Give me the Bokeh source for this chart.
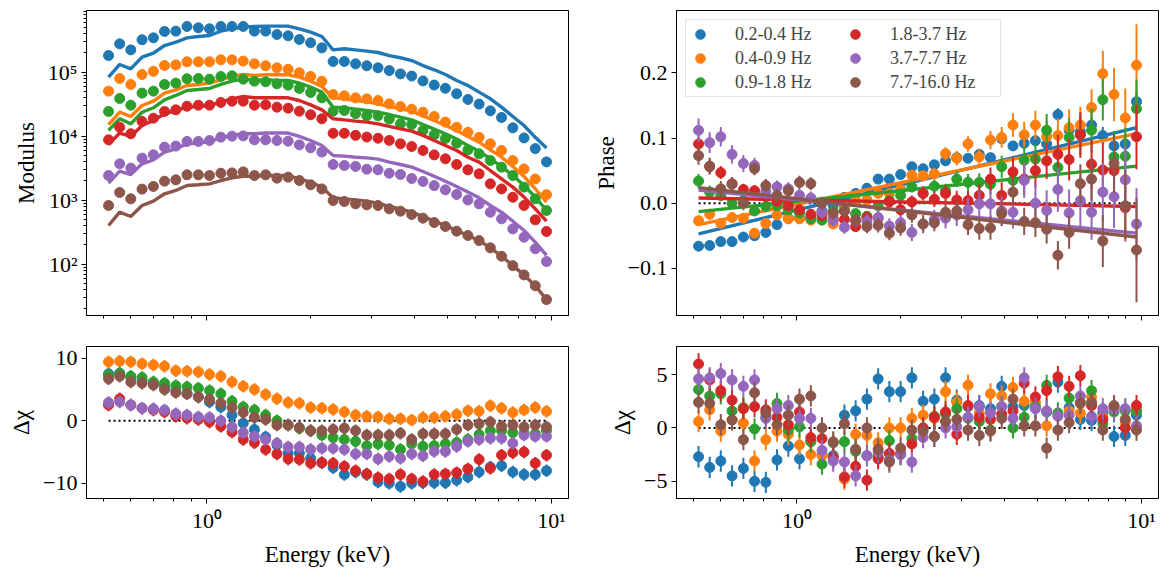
from bokeh.plotting import figure
from bokeh.models import ColumnDataSource, FixedTicker, Legend, LegendItem, Range1d
from bokeh.layouts import gridplot
from bokeh.embed import file_html
from bokeh.resources import INLINE

# ---------------- data ----------------
energy = [0.518, 0.558, 0.601, 0.648, 0.699, 0.753, 0.812, 0.875, 0.944, 1.017,
          1.097, 1.182, 1.274, 1.373, 1.480, 1.596, 1.720, 1.854, 1.999, 2.155,
          2.323, 2.504, 2.699, 2.909, 3.136, 3.381, 3.644, 3.928, 4.235, 4.565,
          4.920, 5.304, 5.718, 6.163, 6.644, 7.161, 7.720, 8.321, 8.970, 9.669]

band_labels = ["0.2-0.4 Hz", "0.4-0.9 Hz", "0.9-1.8 Hz", "1.8-3.7 Hz", "3.7-7.7 Hz", "7.7-16.0 Hz"]
colors = ["#1f77b4", "#ff7f0e", "#2ca02c", "#d62728", "#9467bd", "#8c564b"]

# modulus data
mod_b1 = [1.82e5, 2.77e5, 2.23e5, 3.21e5, 3.44e5, 4.33e5, 4.38e5, 5.18e5, 4.93e5, 4.76e5,
          5.18e5, 5.18e5, 5.18e5, 4.38e5, 4.38e5, 3.88e5, 3.70e5, 3.24e5, 2.88e5, 2.40e5,
          1.47e5, 1.47e5, 1.35e5, 1.26e5, 1.17e5, 1.06e5, 9.4e4, 8.7e4, 7.3e4, 6.3e4,
          5.6e4, 4.6e4, 3.75e4, 3.17e4, 2.49e4, 1.96e4, 1.35e4, 9.4e3, 6.4e3, 3.97e3]
mod_b2 = [5.06e4, 7.98e4, 6.43e4, 9.2e4, 1.03e5, 1.27e5, 1.30e5, 1.45e5, 1.45e5, 1.45e5,
          1.56e5, 1.56e5, 1.49e5, 1.35e5, 1.26e5, 1.17e5, 1.11e5, 9.8e4, 8.6e4, 7.2e4,
          4.48e4, 4.28e4, 3.97e4, 3.83e4, 3.61e4, 3.20e4, 2.90e4, 2.64e4, 2.37e4, 2.03e4,
          1.66e4, 1.38e4, 1.15e4, 9.6e3, 7.6e3, 5.97e3, 4.17e3, 3.08e3, 2.15e3, 1.22e3]
mod_b3 = [2.43e4, 3.88e4, 3.05e4, 4.71e4, 5.06e4, 6.43e4, 6.75e4, 7.89e4, 7.98e4, 7.78e4,
          8.57e4, 8.77e4, 7.78e4, 7.24e4, 7.07e4, 6.58e4, 6.27e4, 5.56e4, 4.82e4, 3.98e4,
          2.46e4, 2.52e4, 2.24e4, 2.08e4, 2.08e4, 1.85e4, 1.56e4, 1.52e4, 1.23e4, 1.05e4,
          9.2e3, 7.8e3, 6.1e3, 5.3e3, 4.17e3, 3.28e3, 2.43e3, 1.60e3, 1.05e3, 690]
mod_b4 = [8.77e3, 1.38e4, 1.09e4, 1.70e4, 1.91e4, 2.43e4, 2.58e4, 2.94e4, 3.05e4, 3.05e4,
          3.36e4, 3.52e4, 3.52e4, 3.05e4, 3.09e4, 2.84e4, 2.74e4, 2.46e4, 2.16e4, 1.87e4,
          1.11e4, 1.11e4, 1.03e4, 9.7e3, 9.3e3, 8.6e3, 7.6e3, 6.9e3, 5.97e3, 5.1e3,
          4.43e3, 3.61e3, 2.98e3, 2.58e3, 1.80e3, 1.50e3, 1.11e3, 826, 493, 324]
mod_b5 = [2.43e3, 3.70e3, 3.17e3, 4.54e3, 5.12e3, 6.75e3, 7.0e3, 8.28e3, 8.28e3, 8.57e3,
          9.66e3, 1.00e4, 1.01e4, 8.77e3, 8.77e3, 8.57e3, 8.37e3, 7.33e3, 6.58e3, 5.64e3,
          3.61e3, 3.48e3, 3.37e3, 3.05e3, 2.98e3, 2.64e3, 2.52e3, 2.18e3, 1.96e3, 1.69e3,
          1.45e3, 1.23e3, 1.01e3, 877, 649, 511, 356, 264, 174, 110]
mod_b6 = [826, 1.32e3, 1.05e3, 1.49e3, 1.64e3, 1.98e3, 2.08e3, 2.49e3, 2.49e3, 2.43e3,
          2.64e3, 2.67e3, 2.77e3, 2.43e3, 2.49e3, 2.21e3, 2.29e3, 2.03e3, 1.74e3, 1.50e3,
          988, 953, 877, 846, 826, 733, 673, 597, 524, 448,
          388, 328, 281, 234, 180, 133, 95, 68, 46, 28]

# modulus model
mmod_b1 = [8.36e4, 1.32e5, 1.13e5, 1.72e5, 1.98e5, 2.61e5, 2.94e5, 3.44e5, 3.61e5, 3.74e5,
           4.38e5, 4.76e5, 5.05e5, 5.18e5, 5.24e5, 5.24e5, 5.24e5, 4.76e5, 4.23e5, 3.61e5,
           2.23e5, 2.32e5, 2.23e5, 2.13e5, 2.03e5, 1.82e5, 1.68e5, 1.52e5, 1.27e5, 1.09e5,
           9.2e4, 7.4e4, 6.2e4, 4.88e4, 3.84e4, 2.84e4, 2.03e4, 1.47e4, 9.6e3, 6.56e3]
mmod_b2 = [1.52e4, 2.37e4, 2.03e4, 3.02e4, 3.53e4, 4.70e4, 5.30e4, 6.20e4, 6.43e4, 6.74e4,
           7.60e4, 8.67e4, 9.21e4, 8.88e4, 9.10e4, 9.10e4, 9.10e4, 8.36e4, 7.24e4, 5.98e4,
           3.98e4, 3.84e4, 3.61e4, 3.44e4, 3.20e4, 2.91e4, 2.68e4, 2.46e4, 2.08e4, 1.76e4,
           1.47e4, 1.23e4, 9.9e3, 8.07e3, 6.12e3, 4.70e3, 3.36e3, 2.35e3, 1.51e3, 932]
mmod_b3 = [1.23e4, 1.87e4, 1.56e4, 2.37e4, 2.78e4, 3.70e4, 4.33e4, 5.18e4, 5.37e4, 5.57e4,
           6.43e4, 7.24e4, 7.88e4, 7.42e4, 7.60e4, 7.42e4, 7.42e4, 6.74e4, 5.84e4, 4.88e4,
           2.84e4, 2.78e4, 2.65e4, 2.52e4, 2.37e4, 2.18e4, 1.98e4, 1.80e4, 1.52e4, 1.29e4,
           1.09e4, 8.99e3, 7.16e3, 5.84e3, 4.43e3, 3.36e3, 2.43e3, 1.70e3, 1.12e3, 690]
mmod_b4 = [7.42e3, 1.12e4, 9.9e3, 1.47e4, 1.76e4, 2.24e4, 2.52e4, 2.84e4, 2.91e4, 3.02e4,
           3.40e4, 3.84e4, 4.17e4, 3.98e4, 3.98e4, 3.98e4, 3.98e4, 3.61e4, 3.09e4, 2.58e4,
           1.87e4, 1.80e4, 1.72e4, 1.66e4, 1.56e4, 1.42e4, 1.30e4, 1.20e4, 1.03e4, 8.57e3,
           7.16e3, 5.98e3, 4.70e3, 3.93e3, 2.91e3, 2.16e3, 1.60e3, 1.12e3, 733, 470]
mmod_b5 = [1.85e3, 2.84e3, 2.52e3, 3.70e3, 4.27e3, 5.63e3, 6.35e3, 7.60e3, 7.78e3, 8.27e3,
           9.43e3, 1.03e4, 1.09e4, 1.09e4, 1.12e4, 1.12e4, 1.12e4, 9.9e3, 8.57e3, 7.16e3,
           4.99e3, 4.88e3, 4.70e3, 4.59e3, 4.38e3, 3.93e3, 3.61e3, 3.28e3, 2.81e3, 2.37e3,
           1.98e3, 1.64e3, 1.34e3, 1.09e3, 826, 650, 470, 336, 221, 137]
mmod_b6 = [402, 650, 556, 826, 966, 1.26e3, 1.42e3, 1.70e3, 1.74e3, 1.80e3,
           2.03e3, 2.24e3, 2.37e3, 2.37e3, 2.43e3, 2.43e3, 2.43e3, 2.16e3, 1.91e3, 1.60e3,
           1.09e3, 1.05e3, 1.01e3, 966, 899, 797, 733, 650, 556, 470,
           402, 336, 281, 235, 180, 134, 95, 68, 46, 28]

# phase data
ph_b1 = [-0.066, -0.065, -0.059, -0.059, -0.052, -0.050, -0.045, -0.033, -0.023, -0.023,
         -0.022, -0.012, -0.003, 0.009, 0.015, 0.023, 0.037, 0.037, 0.044, 0.056,
         0.053, 0.059, 0.065, 0.070, 0.069, 0.075, 0.070, 0.099, 0.088, 0.092,
         0.096, 0.091, 0.136, 0.112, 0.110, 0.120, 0.104, 0.088, 0.091, 0.156]
ph_b2 = [-0.027, -0.017, -0.031, -0.022, -0.023, -0.046, -0.031, -0.018, -0.024, -0.024,
         -0.026, -0.016, -0.032, -0.006, 0.004, 0.005, 0.015, 0.015, 0.021, 0.043,
         0.042, 0.045, 0.076, 0.069, 0.091, 0.071, 0.097, 0.101, 0.120, 0.105,
         0.120, 0.102, 0.104, 0.116, 0.120, 0.147, 0.199, 0.167, 0.131, 0.212]
ph_b3 = [0.034, 0.017, 0.012, 0.000, 0.004, -0.012, -0.005, -0.004, -0.010, -0.015,
         -0.024, -0.026, -0.012, -0.012, -0.016, -0.020, -0.004, 0.004, 0.012, 0.025,
         0.015, 0.026, 0.019, 0.037, 0.032, 0.032, 0.029, 0.056, 0.035, 0.066,
         0.068, 0.112, 0.055, 0.101, 0.105, 0.112, 0.159, 0.071, 0.072, 0.145]
ph_b4 = [0.091, 0.056, 0.047, 0.030, 0.021, 0.019, 0.010, 0.003, -0.004, -0.010,
         -0.017, -0.019, -0.024, -0.025, -0.036, -0.022, -0.023, 0.002, -0.010, 0.002,
         0.015, 0.006, 0.015, 0.005, 0.004, 0.012, 0.037, 0.012, 0.048, 0.037,
         0.050, 0.065, 0.075, 0.067, 0.105, 0.060, 0.051, 0.050, -0.007, 0.102]
ph_b5 = [0.112, 0.093, 0.102, 0.075, 0.061, 0.058, 0.018, 0.025, 0.022, 0.012,
         0.008, -0.014, -0.026, -0.037, -0.027, -0.028, -0.022, -0.035, -0.030, -0.045,
         -0.032, -0.025, -0.023, -0.018, -0.010, -0.001, -0.001, -0.012, -0.014, 0.035,
         0.000, -0.011, 0.021, -0.015, 0.004, -0.014, 0.017, 0.010, 0.036, -0.032]
ph_b6 = [0.073, 0.057, 0.022, 0.029, 0.000, 0.053, 0.027, 0.012, 0.019, 0.032,
         0.030, 0.000, -0.015, -0.012, -0.026, -0.036, -0.034, -0.046, -0.038, -0.018,
         -0.032, -0.030, -0.014, -0.012, -0.033, -0.039, -0.038, -0.016, 0.017, -0.028,
         -0.030, -0.040, -0.080, -0.045, 0.030, 0.037, -0.058, 0.061, -0.004, -0.072]

# phase errors
phe_b1 = [0.005, 0.005, 0.005, 0.004, 0.004, 0.004, 0.004, 0.003, 0.003, 0.003,
          0.003, 0.003, 0.003, 0.003, 0.003, 0.003, 0.003, 0.004, 0.004, 0.004,
          0.004, 0.005, 0.005, 0.005, 0.005, 0.006, 0.006, 0.006, 0.007, 0.007,
          0.008, 0.008, 0.010, 0.010, 0.011, 0.012, 0.013, 0.014, 0.015, 0.016]
phe_b2 = [0.008, 0.008, 0.007, 0.007, 0.006, 0.006, 0.005, 0.005, 0.005, 0.005,
          0.005, 0.005, 0.005, 0.005, 0.005, 0.006, 0.006, 0.006, 0.007, 0.007,
          0.008, 0.009, 0.010, 0.011, 0.012, 0.013, 0.014, 0.016, 0.018, 0.020,
          0.022, 0.024, 0.026, 0.028, 0.028, 0.028, 0.035, 0.041, 0.045, 0.063]
phe_b3 = [0.011, 0.010, 0.009, 0.008, 0.008, 0.007, 0.007, 0.006, 0.006, 0.006,
          0.006, 0.006, 0.006, 0.006, 0.006, 0.007, 0.007, 0.007, 0.008, 0.008,
          0.009, 0.010, 0.011, 0.012, 0.013, 0.014, 0.015, 0.017, 0.019, 0.021,
          0.023, 0.025, 0.027, 0.029, 0.031, 0.034, 0.032, 0.040, 0.044, 0.045]
phe_b4 = [0.012, 0.011, 0.010, 0.010, 0.009, 0.009, 0.008, 0.008, 0.008, 0.008,
          0.008, 0.008, 0.008, 0.008, 0.008, 0.009, 0.009, 0.009, 0.010, 0.010,
          0.011, 0.012, 0.013, 0.014, 0.015, 0.017, 0.018, 0.020, 0.022, 0.024,
          0.026, 0.028, 0.030, 0.032, 0.035, 0.038, 0.041, 0.044, 0.048, 0.050]
phe_b5 = [0.018, 0.016, 0.015, 0.014, 0.013, 0.012, 0.011, 0.010, 0.010, 0.010,
          0.010, 0.010, 0.010, 0.010, 0.010, 0.011, 0.011, 0.012, 0.012, 0.013,
          0.014, 0.015, 0.016, 0.017, 0.018, 0.020, 0.021, 0.023, 0.025, 0.027,
          0.029, 0.031, 0.034, 0.036, 0.039, 0.042, 0.045, 0.048, 0.052, 0.055]
phe_b6 = [0.014, 0.013, 0.012, 0.011, 0.011, 0.010, 0.010, 0.010, 0.010, 0.010,
          0.010, 0.010, 0.010, 0.010, 0.010, 0.010, 0.011, 0.011, 0.012, 0.012,
          0.013, 0.013, 0.014, 0.015, 0.016, 0.017, 0.018, 0.019, 0.020, 0.021,
          0.022, 0.022, 0.022, 0.025, 0.030, 0.033, 0.040, 0.045, 0.055, 0.080]

# phase model (straight in log E): value at first and last energy
phase_model_lo = [-0.047, -0.033, -0.013, 0.008, 0.020, 0.024]
phase_model_hi = [0.116, 0.107, 0.057, -0.005, -0.046, -0.052]

# modulus residuals (delta chi)
rmod_b1 = [7.5, 7.6, 7.0, 6.5, 6.0, 5.5, 4.8, 4.3, 3.8, 3.0, 2.2, 0.9, -0.4, -1.4, -2.6, -3.9, -5.2, -5.2, -6.0, -6.7,
           -7.5, -8.6, -8.2, -8.6, -9.8, -10.0, -10.5, -10.0, -9.9, -9.9, -9.9, -9.5, -9.0, -8.2, -7.4, -7.2, -8.2, -8.6, -8.6, -8.0]
rmod_b2 = [9.4, 9.5, 9.4, 9.1, 8.9, 8.7, 8.0, 7.9, 7.8, 7.4, 7.1, 6.2, 5.5, 5.0, 4.2, 3.5, 2.9, 2.8, 2.1, 2.0,
           1.8, 1.4, 0.9, 0.7, 0.6, 0.3, 0.3, 0.1, 0.5, 0.5, 0.7, 1.0, 1.6, 1.5, 2.4, 2.0, 1.3, 1.7, 2.1, 1.5]
rmod_b3 = [7.3, 7.5, 7.1, 6.9, 6.2, 6.0, 5.6, 5.4, 5.2, 4.8, 4.3, 3.1, 2.2, 1.7, 0.9, 0.0, -0.7, -1.2, -1.6, -2.3,
           -2.7, -3.0, -3.3, -4.0, -3.7, -3.9, -4.6, -3.7, -4.1, -4.0, -3.7, -3.5, -3.0, -2.2, -1.6, -1.6, -1.9, -2.0, -2.1, -1.6]
rmod_b4 = [2.5, 3.5, 2.5, 2.0, 1.7, 1.4, 0.7, 0.4, 0.2, -0.2, -0.9, -1.8, -3.0, -3.5, -4.6, -5.3, -6.1, -6.2, -6.8, -6.7,
           -6.8, -7.3, -8.0, -8.5, -9.1, -9.3, -8.6, -9.3, -9.7, -8.6, -8.5, -8.3, -7.7, -6.2, -7.6, -5.5, -5.1, -5.0, -6.8, -5.5]
rmod_b5 = [2.9, 3.0, 2.5, 2.0, 1.9, 1.7, 1.1, 0.9, 0.6, 0.5, 0.0, -1.0, -1.9, -2.5, -3.0, -3.6, -4.2, -4.2, -4.6, -4.4,
           -4.4, -4.6, -5.3, -5.3, -6.1, -5.7, -6.0, -5.3, -5.6, -4.9, -4.9, -4.1, -3.3, -3.0, -2.8, -2.8, -3.6, -2.3, -2.5, -2.5]
rmod_b6 = [6.7, 7.1, 6.2, 6.0, 5.7, 5.0, 4.5, 4.3, 3.8, 3.4, 2.8, 2.1, 1.3, 0.5, 0.2, -0.7, -0.7, -1.1, -1.6, -1.6,
           -1.4, -1.2, -1.6, -2.3, -2.3, -2.3, -2.0, -3.0, -2.1, -2.1, -2.1, -1.4, -0.7, -0.5, -0.2, -0.9, -0.7, -1.0, -0.7, -1.0]

# phase residuals (delta chi)
rph_b1 = [-2.7, -3.7, -3.1, -4.5, -3.8, -5.0, -5.1, -3.0, -1.7, -2.9, -1.2, -2.5, -2.6, 1.2, 1.6, 2.7, 4.6, 3.4, 3.4, 4.7,
          2.5, 2.7, 4.7, 2.6, 2.0, 2.1, 1.8, 3.9, 2.0, 2.1, 1.9, 1.5, 4.3, 1.9, 0.8, 0.7, 1.4, -0.8, -0.7, 1.2]
rph_b2 = [0.6, 1.7, -0.3, 0.75, 0.45, -3.1, -1.1, -0.3, -0.6, -1.6, -2.5, -2.6, -2.8, -4.8, -0.6, -0.7, -1.4, 0.0, 0.0, 0.9,
          1.2, 0.9, 3.4, 2.4, 4.0, 1.4, 3.2, 3.0, 3.8, 2.5, 2.4, 0.2, 1.2, 1.6, 1.4, 2.9, 1.0, 1.8, 0.5, 1.6]
rph_b3 = [3.6, 3.0, 3.2, 1.6, 1.9, -0.1, 1.0, 2.3, -0.2, 0.1, -1.3, -3.4, -1.4, -1.3, -2.2, -2.6, -2.7, -1.2, -2.5, -1.0,
          0.0, 1.1, 1.3, 1.8, 0.9, 0.6, -0.2, 2.0, 0.0, 1.0, 2.0, 4.0, 1.4, 2.8, 2.4, 3.5, 0.4, 1.5, 1.6, 1.6]
rph_b4 = [6.0, 4.5, 3.5, 2.6, 1.8, 2.0, 1.7, 1.0, 0.3, 1.5, -0.9, -1.0, -2.8, -4.6, -3.6, -4.9, -2.9, -2.4, -2.4, -1.5,
          0.0, 1.0, 1.5, -0.6, 2.1, 1.0, 0.8, 1.3, 1.6, 4.2, 2.9, 3.5, 4.8, 3.9, 4.9, 2.1, 0.8, 2.0, 0.0, 2.1]
rph_b5 = [4.6, 4.7, 5.1, 4.5, 3.9, 4.5, 0.9, 1.8, 2.1, 0.9, 0.9, -2.1, -3.1, -3.2, -4.5, -2.6, -2.3, -3.0, -2.5, -3.2,
          -0.9, -0.8, 0.0, 0.1, 1.0, 2.0, 1.4, 2.0, 0.9, 4.7, 1.8, 1.6, 1.1, 1.2, 3.0, 1.1, 1.8, 1.7, 1.8, 0.2]
rph_b6 = [2.4, 2.3, 0.3, 0.75, -1.1, 3.3, 1.4, 0.3, 1.2, 2.7, 3.0, 0.0, -1.3, 0.4, -2.0, 0.0, -2.0, -3.2, -1.9, -0.2,
          -0.3, -0.8, 0.6, 0.8, -0.2, -0.7, -0.3, 0.9, 2.7, 0.2, 0.2, -1.9, -0.2, 0.5, 2.3, 2.4, -0.2, 2.1, 0.8, -0.2]

residual_error = 1.0  # delta-chi error bars are one sigma

modulus = [mod_b1, mod_b2, mod_b3, mod_b4, mod_b5, mod_b6]
modulus_model = [mmod_b1, mmod_b2, mmod_b3, mmod_b4, mmod_b5, mmod_b6]
phase = [ph_b1, ph_b2, ph_b3, ph_b4, ph_b5, ph_b6]
phase_err = [phe_b1, phe_b2, phe_b3, phe_b4, phe_b5, phe_b6]
res_mod = [rmod_b1, rmod_b2, rmod_b3, rmod_b4, rmod_b5, rmod_b6]
res_phase = [rph_b1, rph_b2, rph_b3, rph_b4, rph_b5, rph_b6]

# ---------------- styling ----------------
FONT = "Liberation Serif"
FS = "22px"
FS_LABEL = "23px"
X_RANGE = (0.447, 11.2)
X_MAJOR = [1, 10]
X_MINOR = [0.5, 0.6, 0.7, 0.8, 0.9, 2, 3, 4, 5, 6, 7, 8, 9]
MS = 10
LW_MODEL = 3.4


def overrides(d):
    out = {}
    for k, v in d.items():
        out[k] = v
        out[str(k)] = v
    return out


def make_fig(width, height, left, right, top, bottom, y_type, y_range, show_x_labels):
    p = figure(width=width, height=height, x_axis_type="log", y_axis_type=y_type,
               x_range=Range1d(*X_RANGE), y_range=Range1d(*y_range),
               output_backend="svg", toolbar_location=None,
               min_border_left=left, min_border_right=right,
               min_border_top=top, min_border_bottom=bottom)
    p.grid.visible = False
    p.outline_line_color = "black"
    p.outline_line_width = 1
    p.outline_line_alpha = 1
    p.background_fill_color = "white"
    p.border_fill_color = "white"
    for ax in (p.xaxis[0], p.yaxis[0]):
        ax.major_tick_in = 0
        ax.major_tick_out = 5
        ax.minor_tick_in = 0
        ax.minor_tick_out = 3
        ax.major_tick_line_color = "black"
        ax.minor_tick_line_color = "black"
        ax.axis_line_color = "black"
        ax.major_label_text_font = FONT
        ax.major_label_text_font_size = FS
        ax.major_label_text_color = "black"
        ax.axis_label_text_font = FONT
        ax.axis_label_text_font_size = FS_LABEL
        ax.axis_label_text_font_style = "normal"
        ax.axis_label_text_color = "black"
        ax.major_label_standoff = 4
        ax.axis_label_standoff = 6
    p.xaxis.ticker = FixedTicker(ticks=X_MAJOR, minor_ticks=X_MINOR)
    if show_x_labels:
        p.xaxis.major_label_overrides = overrides({1: "10\u2070", 10: "10\u00b9"})
        p.xaxis.axis_label = "Energy (keV)"
    else:
        p.xaxis.major_label_overrides = overrides({1: "", 10: ""})
        p.xaxis.major_label_text_font_size = "0px"
    return p


# ---------------- top left: modulus ----------------
p_mod = make_fig(584, 330, 86, 16, 10, 15, "log", (15.8, 9.2e5), False)
p_mod.yaxis.ticker = FixedTicker(ticks=[100, 1000, 10000, 100000],
                                 minor_ticks=[m * 10 ** k for k in range(1, 6) for m in range(2, 10)])
p_mod.yaxis.major_label_overrides = overrides({100: "10\u00b2", 1000: "10\u00b3", 10000: "10\u2074", 100000: "10\u2075"})
p_mod.yaxis.axis_label = "Modulus"
for i in range(6):
    src = ColumnDataSource(dict(x=energy, y=modulus[i], m=modulus_model[i]))
    p_mod.scatter("x", "y", source=src, size=MS, fill_color=colors[i], line_color=colors[i])
    p_mod.line("x", "m", source=src, line_color=colors[i], line_width=LW_MODEL)

# ---------------- top right: phase ----------------
p_ph = make_fig(584, 330, 92, 10, 10, 15, "linear", (-0.1725, 0.296), False)
p_ph.yaxis.ticker = FixedTicker(ticks=[-0.1, 0.0, 0.1, 0.2], minor_ticks=[])
p_ph.yaxis.major_label_overrides = overrides({-0.1: "\u22120.1", 0: "0.0", 0.1: "0.1", 0.2: "0.2"})
p_ph.yaxis.axis_label = "Phase"
p_ph.line([energy[0], energy[-1]], [0, 0], line_color="black", line_width=2, line_dash="2 3")
legend_items = []
for i in range(6):
    lo = [v - e for v, e in zip(phase[i], phase_err[i])]
    hi = [v + e for v, e in zip(phase[i], phase_err[i])]
    src = ColumnDataSource(dict(x=energy, y=phase[i], lo=lo, hi=hi))
    p_ph.segment("x", "lo", "x", "hi", source=src, line_color=colors[i], line_width=2)
    r = p_ph.scatter("x", "y", source=src, size=MS, fill_color=colors[i], line_color=colors[i])
    p_ph.line([energy[0], energy[-1]], [phase_model_lo[i], phase_model_hi[i]],
              line_color=colors[i], line_width=LW_MODEL)
    legend_items.append(LegendItem(label=band_labels[i], renderers=[r]))

legend = Legend(items=legend_items, location="top_left", ncols=2,
                label_text_font=FONT, label_text_font_size="18px",
                glyph_width=24, glyph_height=24, label_height=24, label_width=108,
                label_standoff=23, spacing=0, padding=2, margin=9,
                border_line_color="#cccccc", border_line_width=1,
                background_fill_color="white", background_fill_alpha=0.8)
p_ph.add_layout(legend)


# ---------------- residual panels ----------------
def residual_panel(left, right, y_range, ticks, labels, data):
    p = make_fig(584, 239, left, right, 16, 70, "linear", y_range, True)
    p.yaxis.ticker = FixedTicker(ticks=ticks, minor_ticks=[])
    p.yaxis.major_label_overrides = overrides(labels)
    p.yaxis.axis_label = "\u0394\u03c7"
    p.line([energy[0], energy[-1]], [0, 0], line_color="black", line_width=2, line_dash="2 3")
    for i in range(6):
        lo = [v - residual_error for v in data[i]]
        hi = [v + residual_error for v in data[i]]
        src = ColumnDataSource(dict(x=energy, y=data[i], lo=lo, hi=hi))
        p.segment("x", "lo", "x", "hi", source=src, line_color=colors[i], line_width=2)
        p.scatter("x", "y", source=src, size=MS, fill_color=colors[i], line_color=colors[i])
    return p


p_rmod = residual_panel(86, 16, (-12.43, 11.86), [-10, 0, 10], {-10: "\u221210", 0: "0", 10: "10"}, res_mod)
p_rph = residual_panel(92, 10, (-6.62, 7.64), [-5, 0, 5], {-5: "\u22125", 0: "0", 5: "5"}, res_phase)

layout = gridplot([[p_mod, p_ph], [p_rmod, p_rph]], toolbar_location=None)

open("out.html", "w").write(file_html(layout, INLINE))
